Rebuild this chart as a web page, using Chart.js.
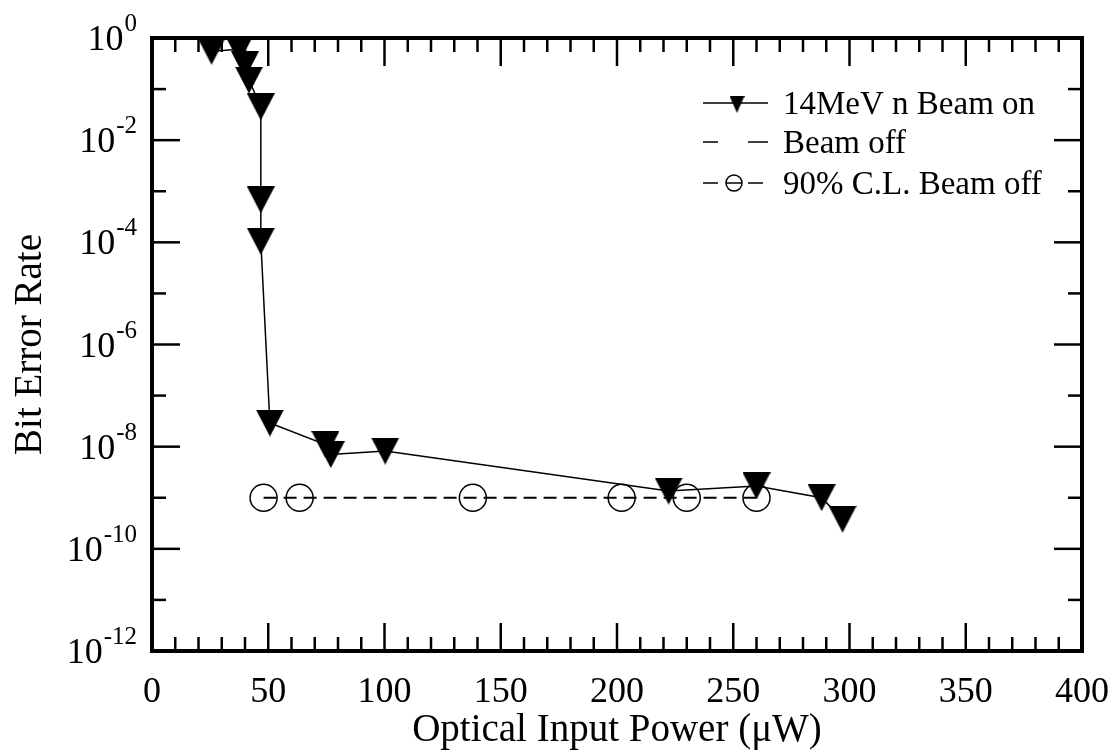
<!DOCTYPE html>
<html>
<head>
<meta charset="utf-8">
<script src="https://cdn.jsdelivr.net/npm/chart.js@4.4.1/dist/chart.umd.min.js"></script>
<style>
html, body { margin: 0; padding: 0; background: #fff; overflow: hidden; }
#wrap { width: 1119px; height: 756px; }
</style>
</head>
<body>
<div id="wrap"><canvas id="chart-ber"></canvas></div>
<script>
// 14 MeV n beam on
const beamOnX = [25.6, 37.5, 40, 41.7, 46.8, 46.8, 46.8, 50.7, 74.6, 76.9, 100.3, 222.2, 260, 288, 297];
const beamOnY = [0.55, 0.6, 0.3, 0.15, 0.045, 6.8e-4, 1.05e-4, 2.9e-8, 1.1e-8, 7e-9, 8.2e-9, 1.35e-9, 1.7e-9, 1e-9, 3.8e-10];
// beam off (90% C.L.)
const beamOffX = [48, 63.5, 138, 202, 230, 260];
const beamOffY = [1e-9, 1e-9, 1e-9, 1e-9, 1e-9, 1e-9];
const xTicks = [0, 50, 100, 150, 200, 250, 300, 350, 400];
const yTickExps = [0, -2, -4, -6, -8, -10, -12];
const legendLabels = ["14MeV n Beam on", "Beam off", "90% C.L. Beam off"];

const FONT = "'Liberation Serif', 'Times New Roman', serif";

function triangleImg(w, h) {
    const c = document.createElement("canvas");
    c.width = w; c.height = h;
    const g = c.getContext("2d");
    g.fillStyle = "#000";
    g.beginPath();
    g.moveTo(0, 0); g.lineTo(w, 0); g.lineTo(w / 2, h); g.closePath();
    g.fill();
    return c;
}
const triBig = triangleImg(28, 27);
const triSmall = triangleImg(15, 17);

function toPoints(xs, ys) {
    return xs.map((v, i) => ({ x: v, y: ys[i] }));
}

function seg(ctx, x1, y1, x2, y2) {
    ctx.beginPath(); ctx.moveTo(x1, y1); ctx.lineTo(x2, y2); ctx.stroke();
}

// frame, inward ticks, y labels with superscripts, legend
const decor = {
    id: "decor",
    afterDraw(chart) {
        const { ctx, chartArea: ca, scales: { x, y } } = chart;
        ctx.save();
        ctx.strokeStyle = "#000";
        ctx.fillStyle = "#000";

        ctx.lineWidth = 2.5;
        for (let v = 0; v <= 400; v += 10) {
            const px = x.getPixelForValue(v);
            const len = v % 50 === 0 ? 28 : 14;
            seg(ctx, px, ca.bottom, px, ca.bottom - len);
            seg(ctx, px, ca.top, px, ca.top + len);
        }
        for (let e = 0; e >= -12; e--) {
            const py = y.getPixelForValue(Math.pow(10, e));
            const len = e % 2 === 0 ? 28 : 14;
            seg(ctx, ca.left, py, ca.left + len, py);
            seg(ctx, ca.right, py, ca.right - len, py);
        }
        ctx.lineWidth = 4;
        ctx.strokeRect(ca.left, ca.top, ca.right - ca.left, ca.bottom - ca.top);

        // y tick labels 10^n
        ctx.textAlign = "right";
        ctx.textBaseline = "alphabetic";
        const rx = ca.left - 15;
        yTickExps.forEach(e => {
            const py = y.getPixelForValue(Math.pow(10, e));
            const sup = String(e);
            ctx.font = "25px " + FONT;
            const sw = ctx.measureText(sup).width;
            ctx.fillText(sup, rx, py - 7);
            ctx.font = "36px " + FONT;
            ctx.fillText("10", rx - sw - 1, py + 12);
        });

        // legend
        const lx0 = ca.left + 551, lx1 = ca.left + 616, tx = ca.left + 631;
        const rows = [ca.top + 65, ca.top + 104, ca.top + 145];
        ctx.lineWidth = 1.5;
        seg(ctx, lx0, rows[0], lx1, rows[0]);
        ctx.drawImage(triSmall, lx0 + 34 - 7.5, rows[0] - 7, 15, 17);
        seg(ctx, lx0, rows[1], lx0 + 15, rows[1]);
        seg(ctx, lx0 + 45, rows[1], lx1, rows[1]);
        seg(ctx, lx0, rows[2], lx0 + 15, rows[2]);
        seg(ctx, lx0 + 45, rows[2], lx0 + 60, rows[2]);
        ctx.beginPath(); ctx.arc(lx0 + 31, rows[2], 8, 0, Math.PI * 2); ctx.stroke();
        seg(ctx, lx0 + 23, rows[2], lx0 + 39, rows[2]);
        ctx.font = "33px " + FONT;
        ctx.textAlign = "left";
        legendLabels.forEach((t, i) => ctx.fillText(t, tx, rows[i] + 11));
        ctx.restore();
    }
};

document.addEventListener("DOMContentLoaded", function () {
    const ctx = document.getElementById("chart-ber").getContext("2d");

    const berChart = new Chart(ctx, {
        type: "scatter",
        data: {
            datasets: [{
                label: legendLabels[0],
                data: toPoints(beamOnX, beamOnY),
                showLine: true,
                borderColor: "#000",
                borderWidth: 1.5,
                pointStyle: triBig,
                pointRadius: 14,
                clip: false
            }, {
                label: legendLabels[1],
                data: toPoints(beamOffX, beamOffY),
                showLine: true,
                borderColor: "#000",
                borderWidth: 2,
                borderDash: [13, 7],
                pointRadius: 0,
                clip: false
            }, {
                label: legendLabels[2],
                data: toPoints(beamOffX, beamOffY),
                showLine: false,
                pointStyle: "circle",
                pointRadius: 13.5,
                pointBorderWidth: 1.5,
                pointBorderColor: "#000",
                pointBackgroundColor: "rgba(0,0,0,0)",
                clip: false
            }]
        },
        options: {
            responsive: true,
            maintainAspectRatio: false,
            animation: false,
            layout: { padding: { left: 0, right: 37, top: 38, bottom: 0 } },
            plugins: { legend: { display: false }, tooltip: { enabled: false } },
            scales: {
                x: {
                    type: "linear",
                    min: 0,
                    max: 400,
                    afterBuildTicks: s => { s.ticks = xTicks.map(v => ({ value: v })); },
                    afterFit: s => { s.height = 105; s.paddingLeft = 0; s.paddingRight = 0; },
                    ticks: { font: { family: FONT, size: 36 }, color: "#000", padding: 20, maxRotation: 0, autoSkip: false },
                    grid: { display: false, drawTicks: false },
                    border: { display: false },
                    title: { display: true, text: "Optical Input Power (μW)", color: "#000", font: { family: FONT, size: 39 }, padding: { top: 0, bottom: 2 } }
                },
                y: {
                    type: "logarithmic",
                    min: 1e-12,
                    max: 1,
                    afterFit: s => { s.width = 152; s.paddingTop = 0; s.paddingBottom = 0; },
                    ticks: { display: false },
                    grid: { display: false, drawTicks: false },
                    border: { display: false },
                    title: { display: true, text: "Bit Error Rate", color: "#000", font: { family: FONT, size: 39 }, padding: { top: 7, bottom: 0 } }
                }
            }
        },
        plugins: [decor]
    });
});
</script>
</body>
</html>
